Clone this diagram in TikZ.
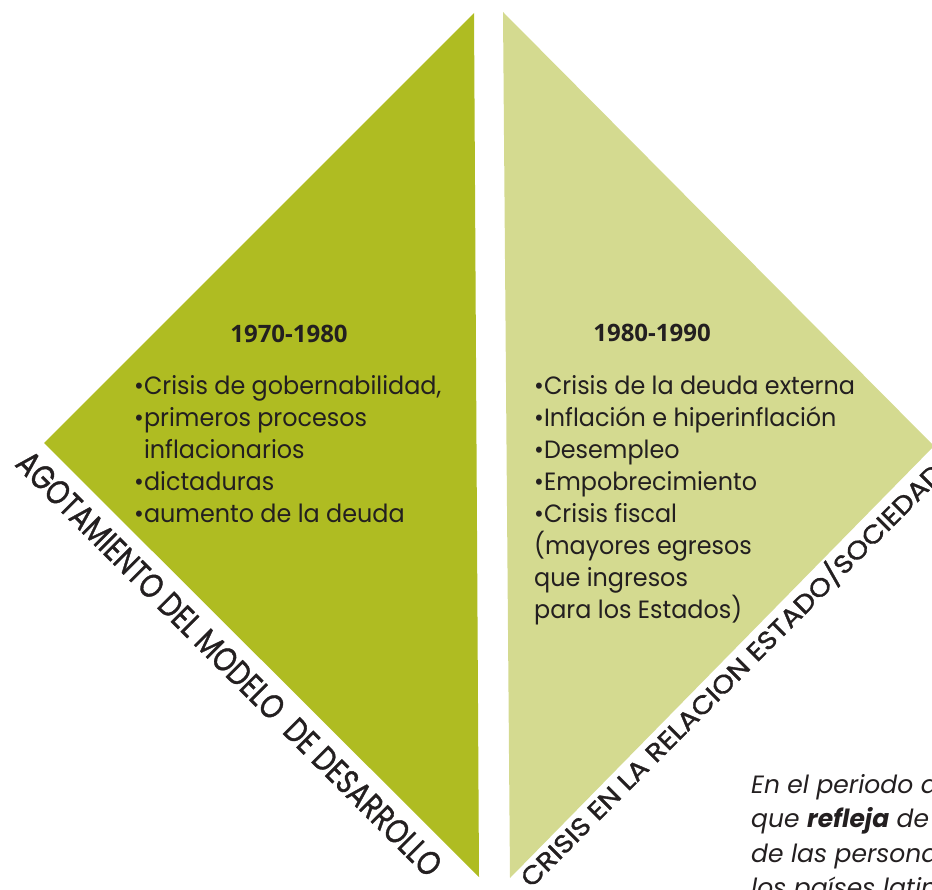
\documentclass[tikz,border=0pt]{standalone}
\usepackage{fontspec}
\setmainfont{Poppins}
\newfontfamily\anofont{Open Sans}
\newfontfamily\listafont{Poppins}[FakeStretch=0.955]
\newfontfamily\ejefont{Poppins}[FakeBold=1.2]
\usetikzlibrary{positioning}
\definecolor{oliva}{HTML}{AFBC22}
\definecolor{olivaclara}{HTML}{D4DA90}
\definecolor{tinta}{HTML}{231F20}
\tikzstyle{every node}=[text=tinta]

\begin{document}
\begin{tikzpicture}[x=1pt, y=-1pt,
    periodo/.style={font=\anofont\bfseries\fontsize{24}{28}\selectfont, anchor=base},
    lista/.style={align=left, inner sep=0pt, anchor=north west, font=\listafont\fontsize{25}{32}\selectfont},
    eje/.style={inner sep=0pt, anchor=base west, font=\ejefont},
    nota/.style={align=left, inner sep=0pt, anchor=north west, font=\itshape\fontsize{25}{34.5}\selectfont},]

\clip (0,0) rectangle (932,890);
\coordinate (a1) at (474,13);
\coordinate (a2) at (44,443);
\coordinate (a3) at (479,877);
\coordinate (b1) at (503,12);
\coordinate (b2) at (934,446);
\coordinate (b3) at (510,878);
\fill[oliva] (a1) -- (a2) -- (a3) -- cycle;
\fill[olivaclara] (b1) -- (b2) -- (b3) -- cycle;

\node[periodo] (p1) at (289,343) {1970-1980};
\node[periodo] (p2) at (652,342) {1980-1990};

\node[lista] (l1) at (134,375) {%
    •Crisis de gobernabilidad,\\
    •primeros procesos\\
    \phantom{•}inflacionarios\\
    •dictaduras\\
    •aumento de la deuda};
\node[lista] (l2) at (534,375) {%
    •Crisis de la deuda externa\\
    •Inflación e hiperinflación\\
    •Desempleo\\
    •Empobrecimiento\\
    •Crisis fiscal\\
    (mayores egresos\\
    que ingresos\\
    para los Estados)};

\node[eje, rotate=-45] (e1) at (14,465) {\resizebox{585pt}{24pt}{AGOTAMIENTO DEL MODELO\ \ DE DESARROLLO}};
\node[eje, rotate=45] (e2) at (531,889) {\resizebox{585pt}{24pt}{CRISIS EN LA RELACION ESTADO/SOCIEDAD}};

\node[nota] (n1) at (751,774) {%
    En el periodo de\\
    que \textbf{refleja} de\\
    de las personas\\
    los países latinoamericanos};
\end{tikzpicture}
\end{document}
